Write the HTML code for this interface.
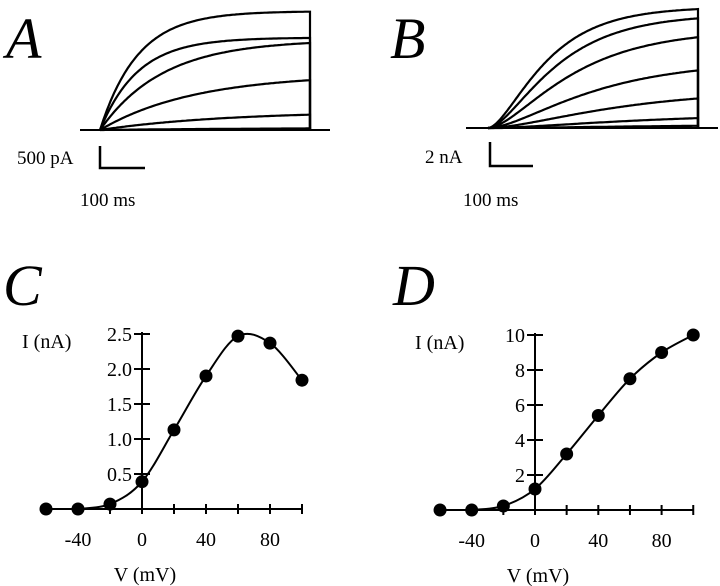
<!DOCTYPE html>
<html><head><meta charset="utf-8"><style>
body{margin:0;background:#fff;}
svg{display:block;font-family:"Liberation Serif",serif;}
</style></head><body>
<svg id="fig" width="720" height="586" viewBox="0 0 720 586">
<g id="gA"></g>
<g id="gB"></g>
<g id="gC"></g>
<g id="gD"></g>
</svg>
<script>
const tracesA = [2700, 2100, 2050, 1270, 430, 50];
const tauA = [0.18, 0.18, 0.3, 0.45, 0.6, 0.8];
const tracesB = [10.1, 9.5, 8.2, 5.6, 3.2, 1.2, 0.3];
const tauB = [0.22, 0.26, 0.32, 0.4, 0.5, 0.6, 0.7];
const voltsC = [-60, -40, -20, 0, 20, 40, 60, 80, 100];
const currC = [0, 0, 0.07, 0.39, 1.13, 1.9, 2.47, 2.37, 1.84];
const yTicksC = ["0.5", "1.0", "1.5", "2.0", "2.5"];
const yTickValsC = [0.5, 1.0, 1.5, 2.0, 2.5];
const voltsD = [-60, -40, -20, 0, 20, 40, 60, 80, 100];
const currD = [0, 0, 0.23, 1.2, 3.2, 5.4, 7.5, 9.0, 10.0];
const yTicksD = ["2", "4", "6", "8", "10"];
const yTickValsD = [2, 4, 6, 8, 10];
const xTickLabels = ["-40", "0", "40", "80"];
const xTickVals = [-40, 0, 40, 80];

const NS = "http://www.w3.org/2000/svg";
function mk(parent, tag, attrs, text){
  const e = document.createElementNS(NS, tag);
  for (const k in attrs) e.setAttribute(k, attrs[k]);
  if (text !== undefined) e.textContent = text;
  parent.appendChild(e);
  return e;
}
function label(g, x, y, s, size, anchor, italic, name){
  const t = mk(g, "text", {x:x, y:y, "font-size":size, "text-anchor":anchor||"start", fill:"#000"}, s);
  if (italic) t.setAttribute("font-style", "italic");
  
  
  return t;
}

function tracePanel(g, amps, taus, base, x0, x1, xs, xe, pxPerUnit, sig, name){
  const bl = mk(g, "line", {x1:xs, y1:base, x2:xe, y2:base, stroke:"#000", "stroke-width":2});
  
  
  amps.forEach((a, i) => {
    let d = "";
    const N = 120;
    for (let k = 0; k <= N; k++){
      const t = k / N;
      let f = 1 - Math.exp(-t / taus[i]);
      if (sig) f = Math.pow(f, 1.8);
      const x = x0 + t * (x1 - x0);
      const y = base - a * pxPerUnit * f;
      d += (k ? "L" : "M") + x.toFixed(1) + " " + y.toFixed(1);
    }
    d += "L" + x1 + " " + base;
    const p = mk(g, "path", {d:d, fill:"none", stroke:"#000", "stroke-width":2.2});
    
    
  });
}

const gA = document.getElementById("gA");
label(gA, 6, 58, "A", 58, "start", true, "panel-a-letter");
tracePanel(gA, tracesA, tauA, 130, 100, 310, 80, 330, 22/500, false, "panel-a");
const sbA = mk(gA, "path", {d:"M100 146 L100 168 L145 168", fill:"none", stroke:"#000", "stroke-width":2.5});


label(gA, 17, 164, "500 pA", 19, "start", false, "panel-a-scale-current");
label(gA, 80, 206, "100 ms", 19, "start", false, "panel-a-scale-time");

const gB = document.getElementById("gB");
label(gB, 390, 58, "B", 58, "start", true, "panel-b-letter");
tracePanel(gB, tracesB, tauB, 128, 488, 698, 466, 718, 12, true, "panel-b");
const sbB = mk(gB, "path", {d:"M490 142 L490 166 L533 166", fill:"none", stroke:"#000", "stroke-width":2.5});


label(gB, 425, 163, "2 nA", 19, "start", false, "panel-b-scale-current");
label(gB, 463, 206, "100 ms", 19, "start", false, "panel-b-scale-time");

function ivPanel(g, volts, curr, yVals, yLabs, x0px, pxPerMv, y0px, pxPerUnit, letterX, name){
  const X = v => x0px + v * pxPerMv;
  const Y = c => y0px - c * pxPerUnit;
  const ymax = yVals[yVals.length-1];
  const xa = mk(g, "line", {x1:X(-60), y1:Y(0), x2:X(100), y2:Y(0), stroke:"#000", "stroke-width":2});
  
  
  const ya = mk(g, "line", {x1:X(0), y1:Y(0), x2:X(0), y2:Y(ymax)-2, stroke:"#000", "stroke-width":2});
  
  
  for (let v = -40; v <= 100; v += 20){
    const t = mk(g, "line", {x1:X(v), y1:Y(0)-5, x2:X(v), y2:Y(0)+5, stroke:"#000", "stroke-width":2});
    
    
  }
  xTickVals.forEach((v, i) => label(g, X(v), Y(0)+37, xTickLabels[i], 20, "middle", false, name + '-x-tick-label'));
  yVals.forEach((c, i) => {
    const t = mk(g, "line", {x1:X(0)-8, y1:Y(c), x2:X(0)+8, y2:Y(c), stroke:"#000", "stroke-width":2});
    
    
    label(g, X(0)-10, Y(c)+7, yLabs[i], 20, "end", false, name + '-y-tick-label');
  });
  label(g, X(0)-120, Y(ymax)+14, "I (nA)", 20, "start", false, name + '-y-axis-title');
  label(g, X(0)+3, Y(0)+72, "V (mV)", 20, "middle", false, name + '-x-axis-title');
  label(g, letterX, 305, name === 'panel-c' ? "C" : "D", 58, "start", true, name + '-letter');
  const pts = volts.map((v, i) => [X(v), Y(curr[i])]).slice(1);
  let d = "M" + pts[0][0] + " " + pts[0][1];
  for (let i = 0; i < pts.length - 1; i++){
    const p0 = pts[Math.max(0, i-1)], p1 = pts[i], p2 = pts[i+1], p3 = pts[Math.min(pts.length-1, i+2)];
    const c1 = [p1[0] + (p2[0]-p0[0])/6, p1[1] + (p2[1]-p0[1])/6];
    const c2 = [p2[0] - (p3[0]-p1[0])/6, p2[1] - (p3[1]-p1[1])/6];
    d += `C${c1[0]} ${c1[1]} ${c2[0]} ${c2[1]} ${p2[0]} ${p2[1]}`;
  }
  const cv = mk(g, "path", {d:d, fill:"none", stroke:"#000", "stroke-width":2});
  
  
  volts.forEach((v, i) => {
    const c = mk(g, "circle", {cx:X(v), cy:Y(curr[i]), r:6.5, fill:"#000"});
    
    
  });
}
ivPanel(document.getElementById("gC"), voltsC, currC, yTickValsC, yTicksC, 142, 1.6, 509, 70, 3, "panel-c");
ivPanel(document.getElementById("gD"), voltsD, currD, yTickValsD, yTicksD, 535, 1.5825, 510, 17.5, 393, "panel-d");
</script>
</body></html>
